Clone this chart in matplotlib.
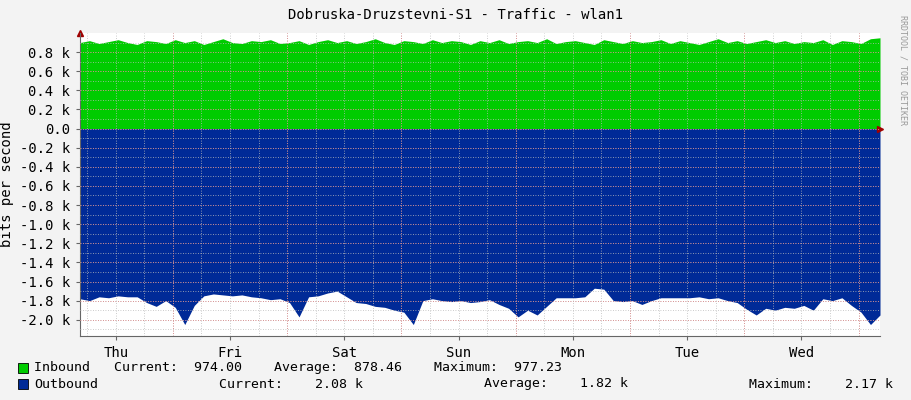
import numpy as np
import matplotlib
matplotlib.use('Agg')
import matplotlib.pyplot as plt

plt.rcParams['font.family'] = 'DejaVu Sans Mono'

# ── Data (k bits/s, sampled every 2 hours over 7 days) ──────────────────────
hours = np.arange(85) * 2.0
inbound = [0.90, 0.92, 0.89, 0.91, 0.93, 0.90, 0.88, 0.92, 0.91, 0.89,
           0.93, 0.90, 0.92, 0.88, 0.91, 0.94, 0.90, 0.89, 0.92, 0.91,
           0.93, 0.89, 0.90, 0.92, 0.88, 0.91, 0.93, 0.90, 0.92, 0.89,
           0.91, 0.94, 0.90, 0.88, 0.92, 0.91, 0.89, 0.93, 0.90, 0.92,
           0.91, 0.88, 0.92, 0.90, 0.93, 0.89, 0.91, 0.92, 0.90, 0.94,
           0.89, 0.91, 0.92, 0.90, 0.88, 0.93, 0.91, 0.89, 0.92, 0.90,
           0.91, 0.93, 0.89, 0.92, 0.90, 0.88, 0.91, 0.94, 0.90, 0.92,
           0.89, 0.91, 0.93, 0.90, 0.92, 0.89, 0.91, 0.90, 0.93, 0.88,
           0.92, 0.91, 0.89, 0.94, 0.95]
outbound = [-1.78, -1.80, -1.76, -1.77, -1.75, -1.76, -1.76, -1.82, -1.86, -1.80,
            -1.87, -2.05, -1.85, -1.75, -1.73, -1.74, -1.75, -1.74, -1.76, -1.77,
            -1.79, -1.78, -1.82, -1.97, -1.76, -1.75, -1.72, -1.70, -1.76, -1.82,
            -1.83, -1.86, -1.87, -1.90, -1.92, -2.05, -1.80, -1.78, -1.80, -1.81,
            -1.80, -1.82, -1.81, -1.79, -1.84, -1.88, -1.97, -1.90, -1.95, -1.86,
            -1.77, -1.77, -1.77, -1.76, -1.67, -1.68, -1.80, -1.81, -1.80, -1.84,
            -1.80, -1.77, -1.77, -1.77, -1.77, -1.76, -1.78, -1.77, -1.80, -1.82,
            -1.89, -1.95, -1.88, -1.90, -1.87, -1.88, -1.85, -1.90, -1.78, -1.80,
            -1.77, -1.85, -1.92, -2.05, -1.95]
days = ['Thu', 'Fri', 'Sat', 'Sun', 'Mon', 'Tue', 'Wed']
first_midnight = 19.5   # hours from graph start

# ── Figure ──────────────────────────────────────────────────────────────────
W, H = 911, 400
fig = plt.figure(figsize=(W / 100, H / 100), dpi=100, facecolor='#f3f3f3')
ax = fig.add_axes([80 / W, 1 - 336 / H, 800 / W, 303 / H])
ax.set_facecolor('white')

ax.fill_between(hours, 0, inbound, color='#00cc00', lw=0, zorder=2)
ax.fill_between(hours, 0, outbound, color='#002a97', lw=0, zorder=2)

ax.set_xlim(0, 168)
ax.set_ylim(-2.17, 1.0)

# grid
for y in np.arange(-2.1, 1.0, 0.1):
    ax.axhline(y, color='#bbbbbb', ls=(0, (1, 2)), lw=0.6, zorder=3)
for y in np.arange(-2.0, 0.9, 0.2):
    ax.axhline(y, color='#e08080', ls=(0, (1, 2)), lw=0.6, zorder=3)
for h in np.arange(first_midnight - 18, 168, 6):
    ax.axvline(h, color='#bbbbbb', ls=(0, (1, 2)), lw=0.6, zorder=3)
mids = first_midnight + 24 * np.arange(7)
for h in mids:
    ax.axvline(h, color='#e08080', ls=(0, (1, 2)), lw=0.6, zorder=3)

yt = np.arange(-2.0, 0.81, 0.2)
ax.set_yticks(yt)
ax.set_yticklabels([f'{v:.1f} k' if abs(v) > 1e-9 else '0.0' for v in yt], fontsize=10)
ax.set_xticks(mids - 12)
ax.set_xticklabels(days, fontsize=10)
ax.tick_params(length=3, color='#666666', pad=4)
for s in ['top', 'right']:
    ax.spines[s].set_visible(False)
for s in ['left', 'bottom']:
    ax.spines[s].set_color('#666666')
ax.set_ylabel('bits per second', fontsize=10)

# axis arrows
ax.plot(1.0, 0, '>', color='#a00000', ms=4, transform=ax.get_yaxis_transform(), clip_on=False)
ax.plot(0, 1.0, '^', color='#a00000', ms=4, transform=ax.get_xaxis_transform(), clip_on=False)

fig.text(455 / W, 1 - 15 / H, 'Dobruska-Druzstevni-S1 - Traffic - wlan1',
         ha='center', va='center', fontsize=10)
fig.text(903 / W, 1 - 70 / H, 'RRDTOOL / TOBI OETIKER', rotation=270,
         ha='center', va='center', fontsize=6, color='#999999')

# legend
for y, col in [(368, '#00cc00'), (384, '#002a97')]:
    fig.patches.append(plt.Rectangle((18 / W, 1 - (y + 5) / H), 10 / W, 10 / H,
                                     transform=fig.transFigure, facecolor=col,
                                     edgecolor='black', lw=0.6))
fs = 9.5
fig.text(34 / W, 1 - 368 / H,
         'Inbound   Current:  974.00    Average:  878.46    Maximum:  977.23',
         va='center', fontsize=fs)
fig.text(34 / W, 1 - 384 / H, 'Outbound', va='center', fontsize=fs)
fig.text(219 / W, 1 - 384 / H, 'Current:    2.08 k', va='center', fontsize=fs)
fig.text(484 / W, 1 - 384 / H, 'Average:    1.82 k', va='center', fontsize=fs)
fig.text(749 / W, 1 - 384 / H, 'Maximum:    2.17 k', va='center', fontsize=fs)

fig.savefig('out.png', dpi=100, facecolor=fig.get_facecolor())
